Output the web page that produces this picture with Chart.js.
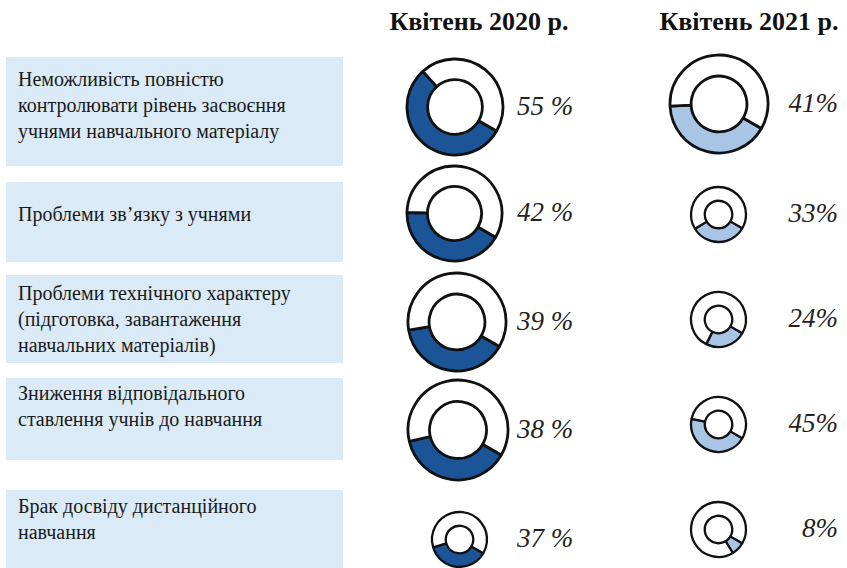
<!DOCTYPE html>
<html>
<head>
<meta charset="utf-8">
<script src="https://cdn.jsdelivr.net/npm/chart.js@4.4.1/dist/chart.umd.min.js"></script>
<style>
  body { margin: 0; background: #fff; }
  #wrap { position: relative; width: 847px; height: 568px; overflow: hidden; color: #1a1a1a; }
  .box { position: absolute; left: 6px; width: 337px; background: #daeaf6; }
  .txt { position: absolute; left: 18px; font-family: 'Liberation Serif'; font-size: 20px; line-height: 26px; white-space: nowrap; color: #1a1a1a; }
  .head { position: absolute; top: 7px; font-family: 'Liberation Serif'; font-size: 26px; font-weight: bold; width: 240px; text-align: center; color: #111; }
  .pct { position: absolute; font-family: 'Liberation Serif'; font-size: 27px; font-style: italic; line-height: 30px; color: #222; white-space: nowrap; }
  canvas { position: absolute; }
</style>
</head>
<body>
<div id="wrap"></div>
<script>
// дані
const categories = [
  ["Неможливість повністю", "контролювати рівень засвоєння", "учнями навчального матеріалу"],
  ["Проблеми зв’язку з учнями"],
  ["Проблеми технічного характеру", "(підготовка, завантаження", "навчальних матеріалів)"],
  ["Зниження відповідального", "ставлення учнів до навчання"],
  ["Брак досвіду дистанційного", "навчання"]
];
const periods = ["Квітень 2020 р.", "Квітень 2021 р."];
const values2020 = [55, 42, 39, 38, 37];
const values2021 = [41, 33, 24, 45, 8];

// розмітка
const boxTops = [57, 182, 275, 378, 490];
const boxHeights = [109, 80, 88, 82, 90];
const textTops = [66, 201, 280, 380, 493];
const headCenters = [479, 749];
const donutX = [[455, 454, 457, 458, 459], [719, 718, 718, 718, 718]];
const donutY = [[107, 213, 322, 430, 539], [104, 214, 319, 424, 529]];
const donutR = [[48, 47.5, 49, 50, 27.5], [49, 27.5, 27.5, 27.5, 27.5]];
const colors = ["#1b5598", "#a9c5e6"];

const wrap = document.getElementById("wrap");

categories.forEach((lines, i) => {
  const box = document.createElement("div");
  box.className = "box";
  box.style.top = boxTops[i] + "px";
  box.style.height = boxHeights[i] + "px";
  wrap.appendChild(box);

  const t = document.createElement("div");
  t.className = "txt";
  t.style.top = textTops[i] + "px";
  t.innerHTML = lines.join("<br>");
  wrap.appendChild(t);
});

periods.forEach((p, k) => {
  const h = document.createElement("div");
  h.className = "head";
  h.textContent = p;
  h.style.left = (headCenters[k] - 120) + "px";
  wrap.appendChild(h);
});

function drawDonut(cx, cy, r, value, color) {
  const size = Math.ceil(2 * (r + 4));
  const cv = document.createElement("canvas");
  cv.width = size;
  cv.height = size;
  cv.style.left = (cx - size / 2) + "px";
  cv.style.top = (cy - size / 2) + "px";
  wrap.appendChild(cv);

  const big = r > 40;
  new Chart(cv, {
    type: "doughnut",
    data: {
      datasets: [{
        data: [value, 100 - value],
        backgroundColor: [color, "#ffffff"],
        borderColor: "#111",
        borderWidth: big ? 2.8 : 2.3
      }]
    },
    options: {
      responsive: false,
      animation: false,
      events: [],
      rotation: 120,
      radius: r,
      cutout: big ? "57%" : "50%",
      layout: { padding: 0 },
      plugins: { legend: { display: false }, tooltip: { enabled: false } }
    }
  });
}

[values2020, values2021].forEach((vals, k) => {
  vals.forEach((v, i) => {
    drawDonut(donutX[k][i], donutY[k][i], donutR[k][i], v, colors[k]);

    const lbl = document.createElement("div");
    lbl.className = "pct";
    lbl.textContent = k === 0 ? v + " %" : v + "%";
    lbl.style.top = (donutY[k][i] - 16) + "px";
    if (k === 0) lbl.style.left = "517px";
    else lbl.style.right = (847 - 838) + "px";
    wrap.appendChild(lbl);
  });
});
</script>
</body>
</html>
